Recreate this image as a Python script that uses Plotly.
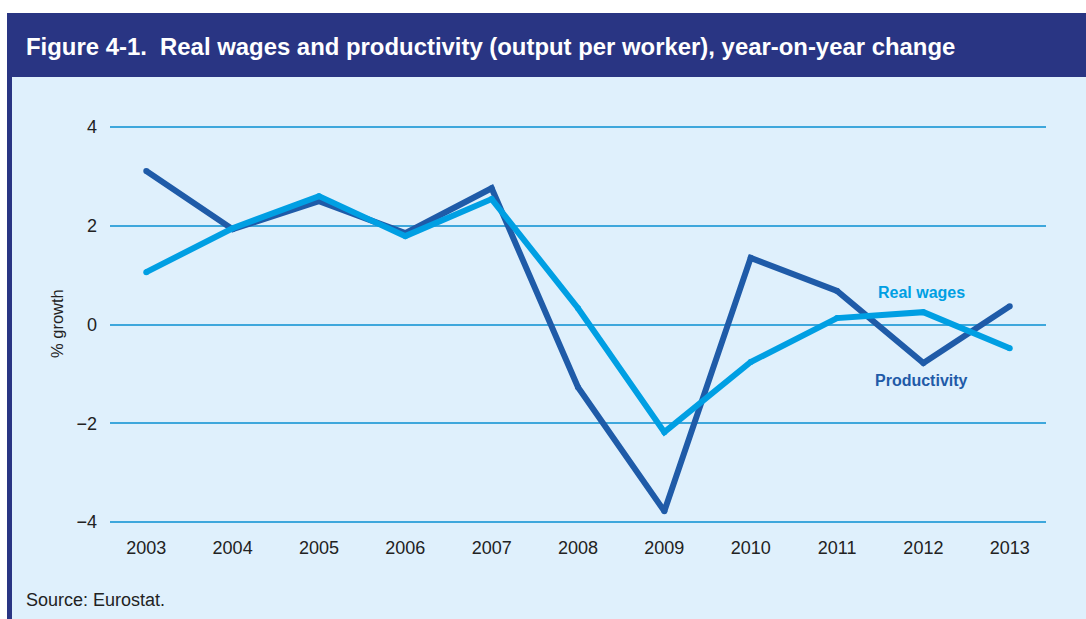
import plotly.graph_objects as go

# Year-on-year change, %
years = [2003, 2004, 2005, 2006, 2007, 2008, 2009, 2010, 2011, 2012, 2013]
productivity = [3.11, 1.93, 2.50, 1.85, 2.76, -1.27, -3.78, 1.35, 0.68, -0.78, 0.37]
real_wages = [1.06, 1.95, 2.60, 1.79, 2.54, 0.33, -2.18, -0.76, 0.13, 0.25, -0.48]
y_ticks = [-4, -2, 0, 2, 4]
y_tick_text = ["\u22124", "\u22122", "0", "2", "4"]

NAVY = "#293583"
BG = "#dff0fc"
DARK = "#1f5ba8"
LIGHT = "#009fe3"
GRID = "#3ea7dc"
FONT = "Liberation Sans, Arial, sans-serif"

W, H = 1086, 619
L, R, T, B = 110, 40, 100, 89
pw, ph = W - L - R, H - T - B


def px(x):
    return (x - L) / pw


def py(y):
    return (H - B - y) / ph


fig = go.Figure()

fig.add_trace(go.Scatter(
    x=years, y=productivity, mode="lines+markers", name="Productivity",
    line=dict(color=DARK, width=6), marker=dict(color=DARK, size=6),
    hoverinfo="x+y", showlegend=False,
))
fig.add_trace(go.Scatter(
    x=years, y=real_wages, mode="lines+markers", name="Real wages",
    line=dict(color=LIGHT, width=6), marker=dict(color=LIGHT, size=6),
    hoverinfo="x+y", showlegend=False,
))

shapes = [
    # white margin strips
    dict(type="rect", xref="paper", yref="paper", x0=px(0), x1=px(W), y0=py(13), y1=py(0),
         fillcolor="white", line=dict(width=0), layer="below"),
    dict(type="rect", xref="paper", yref="paper", x0=px(0), x1=px(7), y0=py(H), y1=py(0),
         fillcolor="white", line=dict(width=0), layer="below"),
    # title bar
    dict(type="rect", xref="paper", yref="paper", x0=px(7), x1=px(W), y0=py(77), y1=py(13),
         fillcolor=NAVY, line=dict(width=0), layer="below"),
    # left rule
    dict(type="rect", xref="paper", yref="paper", x0=px(7), x1=px(12), y0=py(H), y1=py(13),
         fillcolor=NAVY, line=dict(width=0), layer="below"),
]

annotations = [
    dict(text="<b>Figure 4-1.  Real wages and productivity (output per worker), year-on-year change</b>",
         xref="paper", yref="paper", x=px(24), y=py(46), xanchor="left", yanchor="middle",
         showarrow=False, font=dict(family=FONT, size=23.9, color="white")),
    dict(text="% growth", xref="paper", yref="paper", x=px(57), y=py(324),
         xanchor="center", yanchor="middle", textangle=-90, showarrow=False,
         font=dict(family=FONT, size=16.5, color="#222222")),
    dict(text="Source: Eurostat.", xref="paper", yref="paper", x=px(24), y=py(600),
         xanchor="left", yanchor="middle", showarrow=False,
         font=dict(family=FONT, size=18, color="#222222")),
    dict(text="<b>Real wages</b>", x=2011.98, y=0.64, xref="x", yref="y", showarrow=False,
         font=dict(family=FONT, size=16, color=LIGHT)),
    dict(text="<b>Productivity</b>", x=2011.98, y=-1.13, xref="x", yref="y", showarrow=False,
         font=dict(family=FONT, size=16, color=DARK)),
]

fig.update_layout(
    width=W, height=H,
    margin=dict(l=L, r=R, t=T, b=B),
    paper_bgcolor=BG, plot_bgcolor="rgba(0,0,0,0)",
    shapes=shapes, annotations=annotations,
    font=dict(family=FONT, size=18, color="#222222"),
    xaxis=dict(range=[2002.58, 2013.42], tickvals=years, ticktext=[str(y) for y in years],
               showgrid=False, zeroline=False, showline=False, ticks="",
               ticklabelstandoff=5, tickfont=dict(size=18, color="#222222"), fixedrange=True),
    yaxis=dict(range=[-4.162, 4.547], tickvals=y_ticks, ticktext=y_tick_text,
               showgrid=True, gridcolor=GRID, gridwidth=1.5, zeroline=False, showline=False,
               ticks="", ticklabelstandoff=12, tickfont=dict(size=18, color="#222222"),
               fixedrange=True),
)

fig.write_html("out.html")
